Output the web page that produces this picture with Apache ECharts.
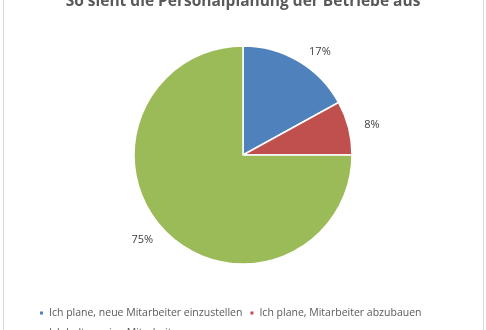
<!DOCTYPE html>
<html><head><meta charset="utf-8">
<script src="https://cdn.jsdelivr.net/npm/echarts@6/dist/echarts.min.js"></script>
<style>html,body{margin:0;padding:0;background:#fff}#c{width:486px;height:330px}</style>
</head><body><div id="c"></div>
<script>
const titleText = 'So sieht die Personalplanung der Betriebe aus';
const categories = ['Ich plane, neue Mitarbeiter einzustellen', 'Ich plane, Mitarbeiter abzubauen', 'Ich halte meine Mitarbeiter'];
const values = [17, 8, 75];
const colors = ['#4F81BD', '#C0504D', '#9BBB59'];

const chart = echarts.init(document.getElementById('c'), null, {renderer: 'canvas'});
chart.setOption({
  animation: false,
  color: colors,
  title: {
    text: titleText, left: 'center', top: -11,
    textStyle: {fontFamily: 'Open Sans', fontWeight: 'bold', fontSize: 15.5, color: '#595959'}
  },
  graphic: [
    {type: 'line', shape: {x1: 3.5, y1: 0, x2: 3.5, y2: 330}, style: {stroke: '#d9d9d9', lineWidth: 1}},
    {type: 'line', shape: {x1: 483.5, y1: 0, x2: 483.5, y2: 330}, style: {stroke: '#d9d9d9', lineWidth: 1}}
  ],
  legend: {
    left: 33, top: 301, width: 420,
    itemWidth: 5, itemHeight: 5, itemGap: 6, icon: 'rect',
    textStyle: {fontFamily: 'Open Sans', fontSize: 10.5, color: '#595959', lineHeight: 14},
    data: categories
  },
  series: [{
    type: 'pie',
    center: [243, 155],
    radius: [0, 109],
    startAngle: 90,
    clockwise: true,
    itemStyle: {borderColor: '#fff', borderWidth: 1.5},
    label: {show: true, position: 'outside', formatter: '{d}%', fontFamily: 'Open Sans', fontSize: 11, color: '#404040'},
    labelLine: {show: false, length: 11, length2: 0},
    data: categories.map((n, i) => ({name: n, value: values[i]}))
  }]
});
</script></body></html>
